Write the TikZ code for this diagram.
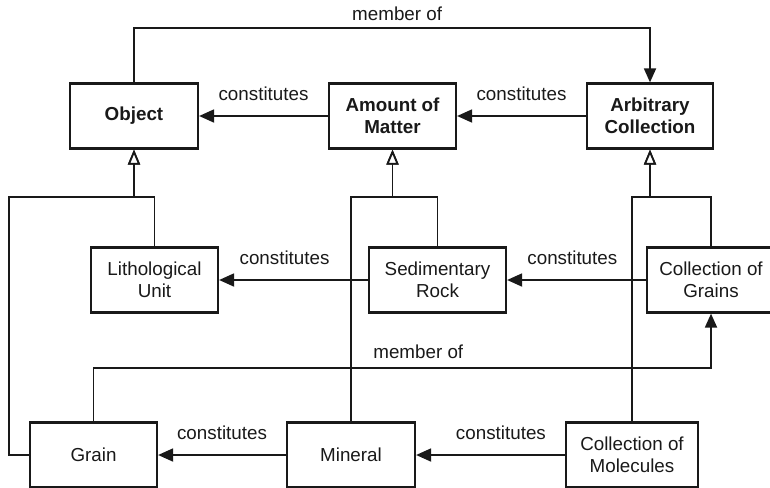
\documentclass[tikz,border=0pt]{standalone}
\usepackage{fontspec}
\setmainfont{Liberation Sans}
\usetikzlibrary{arrows.meta}

\newlength{\du}
\setlength{\du}{0.5pt}
\definecolor{dialinecolor}{rgb}{0.1,0.1,0.1}

\tikzset{
  classbox/.style={draw=dialinecolor, line width=1.1pt, fill=white, inner sep=0pt,
    minimum height=65\du, align=center, text=dialinecolor,
    font=\fontsize{9.4}{11}\selectfont},
  boldbox/.style={classbox, font=\fontsize{9.4}{11}\selectfont\bfseries},
  constitutes/.style={draw=dialinecolor, line width=0.9pt,
    -{Triangle[length=7.5pt,width=6.5pt]}},
  memberof/.style={draw=dialinecolor, line width=0.9pt,
    -{Triangle[length=7pt,width=6pt]}},
  isa/.style={draw=dialinecolor, line width=0.9pt,
    -{Triangle[open,length=7.5pt,width=6pt,fill=white]}},
  rellabel/.style={inner sep=0pt, text=dialinecolor,
    font=\fontsize{9.4}{11}\selectfont},
}

\begin{document}
\begin{tikzpicture}[x=\du, y=-\du]
\useasboundingbox (0,0) rectangle (770,487);

% classes
\node[boldbox, minimum width=128\du] (object) at (134,116) {Object};
\node[boldbox, minimum width=127\du] (matter) at (392.5,116) {Amount of\\Matter};
\node[boldbox, minimum width=126\du] (arbitrary) at (650,116) {Arbitrary\\Collection};
\node[classbox, minimum width=127\du] (litho) at (154.5,280) {Lithological\\Unit};
\node[classbox, minimum width=137\du] (sediment) at (437.5,280) {Sedimentary\\Rock};
\node[classbox, minimum width=128\du] (grains) at (711,280) {Collection of\\Grains};
\node[classbox, minimum width=127\du] (grain) at (93.5,455) {Grain};
\node[classbox, minimum width=128\du] (mineral) at (351,455) {Mineral};
\node[classbox, minimum width=132\du] (molecules) at (632,455) {Collection of\\Molecules};

% levels of the elbow lines
\coordinate (topbar) at (0,28);
\coordinate (isabar) at (0,197);
\coordinate (lowbar) at (0,368);
\coordinate (leftrail) at (9,0);

% constitutes
\draw[constitutes] (matter) -- (object) node[rellabel, midway, above=7pt] {constitutes};
\draw[constitutes] (arbitrary) -- (matter) node[rellabel, midway, above=7pt] {constitutes};
\draw[constitutes] (sediment) -- (litho) node[rellabel, pos=0.56, above=7pt] {constitutes};
\draw[constitutes] (grains) -- (sediment) node[rellabel, pos=0.53, above=7pt] {constitutes};
\draw[constitutes] (mineral) -- (grain) node[rellabel, midway, above=7pt] {constitutes};
\draw[constitutes] (molecules) -- (mineral) node[rellabel, pos=0.43, above=7pt] {constitutes};

% member of
\draw[memberof] (object.north) |- (arbitrary.north |- topbar) -- (arbitrary.north);
\path (object.north |- topbar) -- (arbitrary.north |- topbar)
  node[rellabel, pos=0.51, above=3.5pt] {member of};
\draw[memberof] (grain.north) |- (grains.south |- lowbar) -- (grains.south);
\path (grain.north |- lowbar) -- (grains.south |- lowbar)
  node[rellabel, pos=0.526, above=4.5pt] {member of};

% is-a
\draw[isa] (litho.north) |- (object.south |- isabar) -- (object.south);
\draw[isa] (grain.west) -| (leftrail |- isabar) -- (object.south |- isabar) -- (object.south);
\draw[isa] (sediment.north) |- (matter.south |- isabar) -- (matter.south);
\draw[isa] (mineral.north) |- (matter.south |- isabar) -- (matter.south);
\draw[isa] (grains.north) |- (arbitrary.south |- isabar) -- (arbitrary.south);
\draw[isa] (molecules.north) |- (arbitrary.south |- isabar) -- (arbitrary.south);
\end{tikzpicture}
\end{document}
